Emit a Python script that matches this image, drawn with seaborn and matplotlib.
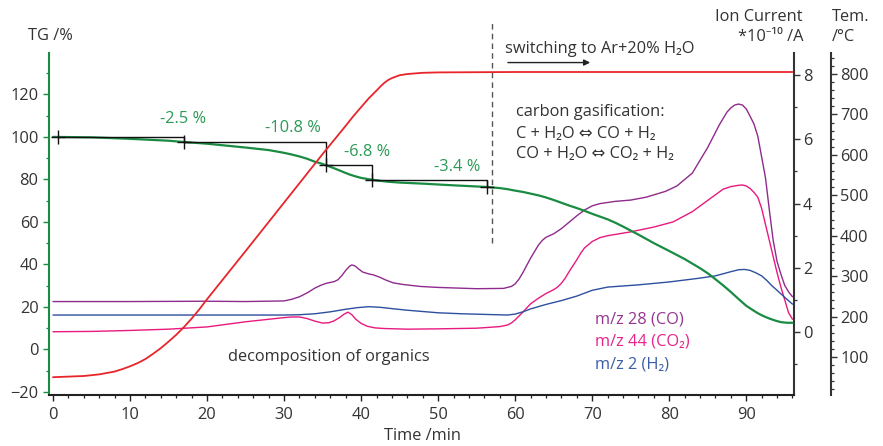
import matplotlib
matplotlib.use("Agg")
import matplotlib.pyplot as plt
from matplotlib.ticker import MultipleLocator
import seaborn as sns

# --- thermogravimetry (TG, %) ---
tg_time = [0, 5, 10, 15, 17, 20, 25, 28, 30, 31, 32, 33, 34, 34.8, 35.5, 36.3, 37, 37.8, 38.5,
           39.2, 40, 40.8, 41.5, 42.5, 43.5, 45, 48, 52, 56.5, 58, 59, 60, 61, 62, 63, 64, 65,
           66, 67, 68, 69, 70, 71, 72, 73, 74, 75, 76, 78, 80, 82, 84, 85, 86, 87, 88, 89, 90,
           90.8, 91.5, 92.2, 93, 93.8, 94.5, 95.3, 96]
tg_val = [100, 99.8, 99.1, 98.2, 97.6, 96.8, 95.0, 93.8, 92.5, 91.7, 90.8, 89.7, 88.3, 87.5,
          86.6, 85.5, 84.5, 83.3, 82.3, 81.5, 80.7, 80.2, 79.8, 79.3, 78.9, 78.5, 78.0, 77.2,
          76.4, 75.9, 75.4, 74.7, 74.1, 73.3, 72.5, 71.5, 70.3, 69.0, 67.7, 66.5, 65.2, 63.8,
          62.5, 61.2, 59.6, 57.8, 55.9, 54.0, 50.0, 46.3, 42.5, 38.2, 35.8, 33.0, 30.1, 27.0,
          23.7, 20.5, 18.6, 17.0, 15.7, 14.5, 13.5, 12.8, 12.5, 12.5]

# --- furnace temperature (°C) ---
temp_time = [0, 4, 6, 8, 9, 10, 11, 12, 13, 14, 15, 16, 17, 18, 19, 20, 25, 30, 35, 38, 39,
             40, 41, 42, 42.5, 43, 43.5, 44, 45, 46, 48, 50, 60, 96]
temp_val = [50, 53, 57, 64, 70, 77, 85, 95, 108, 122, 138, 155, 174, 195, 218, 243, 362, 482,
            602, 672, 696, 718, 740, 759, 769, 778, 785, 790, 797, 800, 803, 804, 805, 805]

# --- ion currents (*1e-10 A) ---
mz28_time = [0, 10, 20, 25, 30, 31, 32, 33, 34, 34.8, 35.5, 36.5, 37, 37.5, 38, 38.5, 38.8,
             39.2, 39.7, 40.2, 41, 41.6, 42.5, 43.2, 44.2, 45.5, 47.7, 50, 55, 58.5, 59.5, 60,
             60.5, 61, 62, 63, 63.5, 64, 65, 66, 67, 68, 69, 70, 71, 73, 75, 77, 79.5, 81, 83,
             85, 86.5, 87, 87.5, 88, 88.5, 89, 89.5, 90, 90.5, 91, 91.5, 92, 92.5, 93, 93.5,
             94, 94.5, 95, 95.5, 96]
mz28_val = [0.95, 0.95, 0.96, 0.95, 0.97, 1.02, 1.1, 1.22, 1.37, 1.46, 1.52, 1.57, 1.63, 1.76,
            1.92, 2.05, 2.09, 2.06, 1.96, 1.87, 1.81, 1.78, 1.7, 1.62, 1.53, 1.48, 1.42, 1.39,
            1.35, 1.36, 1.42, 1.5, 1.65, 1.85, 2.3, 2.7, 2.85, 2.95, 3.06, 3.22, 3.42, 3.62,
            3.8, 3.93, 4.0, 4.07, 4.11, 4.2, 4.38, 4.55, 4.95, 5.75, 6.45, 6.65, 6.85, 6.98,
            7.07, 7.1, 7.07, 6.95, 6.72, 6.48, 6.1, 5.45, 4.8, 3.8, 2.85, 2.2, 1.8, 1.45, 1.25,
            1.1]

mz44_time = [0, 5, 10, 15, 20, 25, 30, 31, 32, 33, 34, 35, 35.8, 36.5, 37.2, 37.8, 38.3, 38.8,
             39.3, 40, 40.8, 41.8, 43, 46, 50, 55, 58, 59, 59.5, 60, 60.5, 61, 62, 63, 64, 65,
             65.5, 66, 66.5, 67, 68, 68.5, 69, 70, 71, 72, 75, 78, 80.5, 83, 85, 87, 88, 89,
             89.5, 90, 90.5, 91, 91.5, 92, 92.5, 93, 93.5, 94, 94.5, 95, 95.5, 96]
mz44_val = [0.01, 0.02, 0.05, 0.09, 0.16, 0.32, 0.45, 0.47, 0.47, 0.42, 0.34, 0.28, 0.29,
            0.35, 0.45, 0.56, 0.62, 0.54, 0.4, 0.27, 0.18, 0.13, 0.11, 0.09, 0.1, 0.12, 0.17,
            0.22, 0.28, 0.38, 0.5, 0.62, 0.88, 1.05, 1.2, 1.32, 1.4, 1.52, 1.68, 1.88, 2.25,
            2.45, 2.62, 2.82, 2.94, 3.0, 3.12, 3.27, 3.43, 3.75, 4.1, 4.45, 4.53, 4.57, 4.58,
            4.55, 4.47, 4.35, 4.2, 3.85, 3.35, 2.85, 2.35, 1.85, 1.4, 1.0, 0.6, 0.4]

mz2_time = [0, 10, 20, 30, 32, 34, 36, 38, 39.5, 41, 42.5, 44, 46, 48, 50, 53, 56, 59, 60,
            61, 62, 64, 66, 68, 70, 72, 76, 80, 84, 86, 88, 89, 89.8, 90.5, 91.2, 92, 92.7,
            93.3, 94, 95, 96]
mz2_val = [0.53, 0.53, 0.53, 0.53, 0.54, 0.57, 0.63, 0.71, 0.76, 0.79, 0.77, 0.73, 0.68, 0.64,
           0.6, 0.57, 0.55, 0.53, 0.56, 0.63, 0.72, 0.86, 0.98, 1.12, 1.3, 1.4, 1.47, 1.56,
           1.68, 1.75, 1.88, 1.94, 1.95, 1.92, 1.85, 1.75, 1.6, 1.45, 1.3, 1.08, 0.87]

# --- TG mass-loss steps ---
step_time = [0.6, 17, 35.5, 41.4, 56.4]
step_loss = [2.5, 10.8, 6.8, 3.4]
step_label_pos = [(16.9, 108.2), (31.2, 104.0), (40.8, 92.7), (52.5, 85.6)]

GREEN = "#1a8b42"
RED = "#e8252b"
PURPLE = "#8e2b8c"
PINK = "#e8197f"
BLUE = "#2d4f9e"
TEXT = "#333333"

sns.set_theme(style="ticks")
plt.rcParams["font.family"] = ["Open Sans", "Noto Sans", "DejaVu Sans"]
plt.rcParams["text.color"] = TEXT
FS = 11.8

fig = plt.figure(figsize=(8.83, 4.46), dpi=100)
ax = fig.add_axes([49 / 883, 1 - 395 / 446, 745 / 883, 342 / 446])
ax_ion = ax.twinx()
ax_tem = ax.twinx()
ax.set_zorder(2)
ax.patch.set_visible(False)
ax_tem.set_zorder(3)
ax_ion.set_zorder(1)

# curves
sns.lineplot(x=mz28_time, y=mz28_val, ax=ax_ion, color=PURPLE, lw=1.0)
sns.lineplot(x=mz44_time, y=mz44_val, ax=ax_ion, color=PINK, lw=1.0)
sns.lineplot(x=mz2_time, y=mz2_val, ax=ax_ion, color=BLUE, lw=1.0)
sns.lineplot(x=tg_time, y=tg_val, ax=ax, color=GREEN, lw=1.6)
sns.lineplot(x=temp_time, y=temp_val, ax=ax_tem, color=RED, lw=1.3)

# mass-loss step construction
levels = [100.0]
for loss in step_loss:
    levels.append(round(levels[-1] - loss, 1))
for i, loss in enumerate(step_loss):
    t0, t1 = step_time[i], step_time[i + 1]
    ax.plot([t0, t1, t1], [levels[i], levels[i], levels[i + 1]], color="#111111", lw=1.0,
            zorder=4)
    lx, ly = step_label_pos[i]
    ax.text(lx, ly, f"-{loss} %", color="#2a9a55", fontsize=FS, ha="center", va="center")
ax.plot(step_time, levels, ls="none", marker="+", ms=10, mew=1.0, color="#111111", zorder=5)

# atmosphere switch
ax.plot([57, 57], [49.9, 154.8], color="#555555", lw=1.0, ls=(0, (4, 3)), clip_on=False)
ax.annotate("", xy=(70.1, 135), xytext=(58.7, 135),
            arrowprops=dict(arrowstyle="-|>", color="#222222", lw=1.0, mutation_scale=9),
            annotation_clip=False)
ax.text(58.7, 141.6, "switching to Ar+20% H₂O", fontsize=FS, ha="left", va="center",
        clip_on=False)

ax.text(60.1, 111.5, "carbon gasification:", fontsize=FS, ha="left", va="center")
ax.text(60.1, 101.6, "C + H₂O ⇔ CO + H₂", fontsize=FS, ha="left", va="center")
ax.text(60.1, 91.8, "CO + H₂O ⇔ CO₂ + H₂", fontsize=FS, ha="left", va="center")
ax.text(22.7, -3.8, "decomposition of organics", fontsize=FS, ha="left", va="center")

ax.text(70.4, 14.1, "m/z 28 (CO)", color="#94368f", fontsize=FS, ha="left", va="center")
ax.text(70.4, 3.8, "m/z 44 (CO₂)", color="#e8238a", fontsize=FS, ha="left", va="center")
ax.text(70.4, -7.0, "m/z 2 (H₂)", color="#3c5dab", fontsize=FS, ha="left", va="center")

# axes limits and ticks
ax.set_xlim(-0.52, 96.2)
ax.set_ylim(-21.5, 139.5)
ax_ion.set_ylim(-1.96, 8.69)
ax_tem.set_ylim(6, 852)

ax.set_xticks(range(0, 100, 10))
ax.xaxis.set_minor_locator(MultipleLocator(2))
ax.yaxis.set_major_locator(MultipleLocator(20))
ax.yaxis.set_minor_locator(MultipleLocator(10))
ax_ion.set_yticks([0, 2, 4, 6, 8])
ax_ion.yaxis.set_minor_locator(MultipleLocator(1))
ax_tem.set_yticks(range(100, 900, 100))
ax_tem.yaxis.set_minor_locator(MultipleLocator(20))

for a in (ax, ax_ion, ax_tem):
    a.set_xlabel("")
    a.set_ylabel("")
    a.spines["top"].set_visible(False)
    a.tick_params(which="major", length=4.5, width=1.0, labelsize=FS, labelcolor=TEXT,
                  direction="out")
    a.tick_params(which="minor", length=2.5, width=0.9, direction="out")

ax.spines["right"].set_visible(False)
ax.spines["left"].set_color(GREEN)
ax.spines["left"].set_linewidth(1.5)
ax.spines["bottom"].set_color("#222222")
ax.spines["bottom"].set_linewidth(1.5)
ax.tick_params(axis="y", which="both", color=GREEN, pad=3)
ax.tick_params(axis="x", which="both", color="#222222", pad=4)
ax.set_xlim(-0.52, 96.2)

for a in (ax_ion, ax_tem):
    a.spines["left"].set_visible(False)
    a.spines["bottom"].set_visible(False)
    a.spines["right"].set_color("#333333")
    a.spines["right"].set_linewidth(1.5)
    a.tick_params(axis="y", which="both", color="#333333", pad=2)
ax_tem.spines["right"].set_position(("axes", (831 - 49) / 745))

# axis titles
fig.text(50 / 883, 1 - 36 / 446, "TG /%", fontsize=FS, ha="center", va="center")
fig.text(803 / 883, 1 - 17 / 446, "Ion Current", fontsize=FS, ha="right", va="center")
fig.text(803 / 883, 1 - 37 / 446, "*10⁻¹⁰ /A", fontsize=FS, ha="right", va="center")
fig.text(832 / 883, 1 - 17 / 446, "Tem.", fontsize=FS, ha="left", va="center")
fig.text(832 / 883, 1 - 37 / 446, "/°C", fontsize=FS, ha="left", va="center")
fig.text(423 / 883, 1 - 436 / 446, "Time /min", fontsize=FS, ha="center", va="center")

fig.savefig("out.png", dpi=100)
